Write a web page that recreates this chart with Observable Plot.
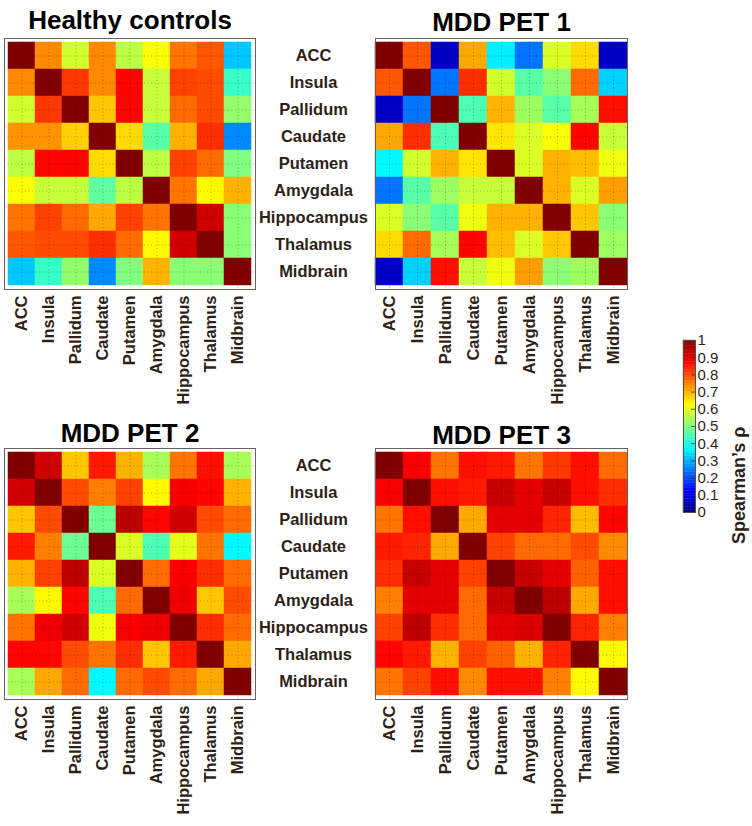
<!DOCTYPE html>
<html><head><meta charset="utf-8">
<script src="https://cdn.jsdelivr.net/npm/d3@7"></script>
<script src="https://cdn.jsdelivr.net/npm/@observablehq/plot@0.6"></script>
<style>
body{margin:0;background:#fff;}
#wrap{position:relative;width:752px;height:826px;font-family:"Liberation Sans",Arial,sans-serif;}
#wrap > .p{position:absolute;}
</style></head><body><div id="wrap"></div>
<script>
const regions = ["ACC","Insula","Pallidum","Caudate","Putamen","Amygdala","Hippocampus","Thalamus","Midbrain"];

const healthyControls = [
  [1.00,0.74,0.58,0.74,0.56,0.62,0.76,0.79,0.32],
  [0.74,1.00,0.82,0.74,0.87,0.57,0.81,0.80,0.43],
  [0.58,0.82,1.00,0.68,0.87,0.57,0.77,0.80,0.52],
  [0.73,0.73,0.67,1.00,0.66,0.46,0.70,0.83,0.26],
  [0.56,0.87,0.87,0.66,1.00,0.56,0.81,0.77,0.50],
  [0.62,0.57,0.57,0.47,0.56,1.00,0.76,0.63,0.70],
  [0.76,0.81,0.77,0.71,0.81,0.76,1.00,0.92,0.51],
  [0.79,0.80,0.80,0.83,0.77,0.63,0.92,1.00,0.51],
  [0.32,0.43,0.52,0.26,0.50,0.70,0.51,0.51,1.00]
];
const mddPet1 = [
  [1.00,0.79,0.07,0.71,0.36,0.24,0.59,0.66,0.07],
  [0.79,1.00,0.24,0.83,0.58,0.46,0.51,0.77,0.33],
  [0.07,0.24,1.00,0.45,0.70,0.53,0.46,0.54,0.86],
  [0.71,0.83,0.45,1.00,0.65,0.59,0.62,0.87,0.57],
  [0.37,0.58,0.70,0.65,1.00,0.59,0.70,0.69,0.61],
  [0.24,0.46,0.53,0.57,0.57,1.00,0.70,0.59,0.72],
  [0.59,0.51,0.46,0.61,0.70,0.70,1.00,0.68,0.51],
  [0.66,0.77,0.54,0.87,0.69,0.59,0.68,1.00,0.53],
  [0.07,0.33,0.86,0.57,0.61,0.72,0.51,0.53,1.00]
];
const mddPet2 = [
  [1.00,0.92,0.68,0.85,0.70,0.54,0.76,0.86,0.54],
  [0.92,1.00,0.80,0.75,0.81,0.63,0.88,0.87,0.70],
  [0.68,0.80,1.00,0.48,0.94,0.87,0.92,0.80,0.77],
  [0.85,0.75,0.48,1.00,0.59,0.45,0.60,0.76,0.37],
  [0.70,0.81,0.94,0.59,1.00,0.77,0.88,0.83,0.77],
  [0.54,0.63,0.87,0.45,0.77,1.00,0.89,0.68,0.80],
  [0.76,0.89,0.92,0.61,0.88,0.89,1.00,0.83,0.77],
  [0.87,0.87,0.80,0.76,0.83,0.68,0.85,1.00,0.71],
  [0.54,0.71,0.77,0.37,0.77,0.80,0.77,0.71,1.00]
];
const mddPet3 = [
  [1.00,0.88,0.76,0.86,0.85,0.76,0.82,0.86,0.77],
  [0.88,1.00,0.86,0.85,0.93,0.90,0.93,0.86,0.83],
  [0.76,0.86,1.00,0.71,0.90,0.90,0.84,0.69,0.87],
  [0.85,0.84,0.71,1.00,0.81,0.77,0.77,0.80,0.74],
  [0.83,0.93,0.90,0.81,1.00,0.93,0.90,0.78,0.86],
  [0.75,0.90,0.90,0.77,0.93,1.00,0.94,0.71,0.86],
  [0.81,0.94,0.83,0.77,0.90,0.91,1.00,0.84,0.75],
  [0.87,0.85,0.70,0.81,0.78,0.70,0.84,1.00,0.63],
  [0.76,0.81,0.86,0.74,0.86,0.86,0.75,0.63,1.00]
];
const colorbarTicks = [0,0.1,0.2,0.3,0.4,0.5,0.6,0.7,0.8,0.9,1];
const colorbarLabel = "Spearman\u2019s \u03c1";

const FONT = '"Liberation Sans", Arial, sans-serif';
const INK = "#2e1f17";

function jet(t) {
  const c = v => Math.max(0, Math.min(1, v));
  const r = c(1.5 - Math.abs(4 * t - 3));
  const g = c(1.5 - Math.abs(4 * t - 2));
  const b = c(1.5 - Math.abs(4 * t - 1));
  return `rgb(${Math.round(r * 255)},${Math.round(g * 255)},${Math.round(b * 255)})`;
}

function tidy(matrix) {
  return matrix.flatMap((row, i) => row.map((v, j) => ({row: regions[i], col: regions[j], value: v})));
}

function panel(opts) {
  const {title, matrix, showRows, width, height, marginLeft, marginRight, marginTop, marginBottom, titleDy} = opts;
  const marks = [
    Plot.cell(tidy(matrix), {x: "col", y: "row", fill: "value", stroke: "value", strokeWidth: 0.5, inset: 0}),
    Plot.gridX({stroke: "#000", strokeOpacity: 0.28, strokeDasharray: "1,2.5"}),
    Plot.gridY({stroke: "#000", strokeOpacity: 0.28, strokeDasharray: "1,2.5"}),
    Plot.frame({stroke: "#6d6058", strokeWidth: 1}),
    Plot.axisX({anchor: "bottom", tickRotate: -90, tickSize: 0, tickPadding: 6, fontSize: 16.5, fontWeight: "bold", fill: INK, label: null}),
    Plot.text([title], {frameAnchor: "top", dy: titleDy, fontSize: 26, fontWeight: "bold", fill: "#000", lineAnchor: "middle"})
  ];
  if (showRows) {
    marks.push(Plot.axisY({anchor: "right", tickSize: 0, tickPadding: 3, textAnchor: "middle", dx: 55, fontSize: 16.5, fontWeight: "bold", fill: INK, label: null}));
  } else {
    marks.push(Plot.axisY({anchor: "left", ticks: [], label: null}));
  }
  return Plot.plot({
    width, height, marginLeft, marginRight, marginTop, marginBottom,
    style: {fontFamily: FONT, color: INK, background: "transparent", overflow: "visible"},
    x: {domain: regions, padding: 0, label: null},
    y: {domain: regions, padding: 0, label: null},
    color: {type: "linear", domain: [0, 1], interpolate: jet},
    marks
  });
}

function place(node, left, top) {
  const d = document.createElement("div");
  d.className = "p";
  d.style.left = left + "px";
  d.style.top = top + "px";
  d.appendChild(node);
  document.getElementById("wrap").appendChild(d);
}

place(panel({title: "Healthy controls", matrix: healthyControls, showRows: true,
  width: 376, height: 410, marginLeft: 4, marginRight: 121, marginTop: 38, marginBottom: 121, titleDy: -18}), 0, 0);
place(panel({title: "MDD PET 1", matrix: mddPet1, showRows: false,
  width: 262, height: 410, marginLeft: 5, marginRight: 5, marginTop: 38, marginBottom: 121, titleDy: -16}), 370, 0);
place(panel({title: "MDD PET 2", matrix: mddPet2, showRows: true,
  width: 376, height: 416, marginLeft: 4, marginRight: 121, marginTop: 38, marginBottom: 127, titleDy: -15}), 0, 410);
place(panel({title: "MDD PET 3", matrix: mddPet3, showRows: false,
  width: 262, height: 416, marginLeft: 5, marginRight: 5, marginTop: 38, marginBottom: 127, titleDy: -13}), 370, 410);

// colorbar (64-level jet, as in MATLAB)
const levels = d3.range(64).map(i => ({lo: i / 64, hi: (i + 1) / 64, mid: (i + 0.5) / 64}));
const colorbar = Plot.plot({
  width: 92, height: 210, marginLeft: 23, marginRight: 57, marginTop: 20, marginBottom: 18,
  style: {fontFamily: FONT, color: INK, background: "transparent", overflow: "visible"},
  x: {domain: [0, 1], axis: null},
  y: {domain: [0, 1], axis: null},
  color: {type: "linear", domain: [0, 1], interpolate: jet},
  marks: [
    Plot.rect(levels, {y1: "lo", y2: "hi", fill: "mid", stroke: "mid", strokeWidth: 0.4}),
    Plot.tickY(colorbarTicks, {y: d => d, insetLeft: 8, stroke: "#333", strokeWidth: 0.8}),
    Plot.frame({stroke: "#5a4d45"}),
    Plot.axisY({anchor: "right", ticks: colorbarTicks, tickFormat: d => String(d), tickSize: 0, tickPadding: 2, fontSize: 15, fill: INK, label: null}),
    Plot.text([colorbarLabel], {frameAnchor: "right", rotate: -90, dx: 44, fontSize: 18, fontWeight: "bold", fill: INK})
  ]
});
place(colorbar, 660, 320);
</script>
</body></html>
